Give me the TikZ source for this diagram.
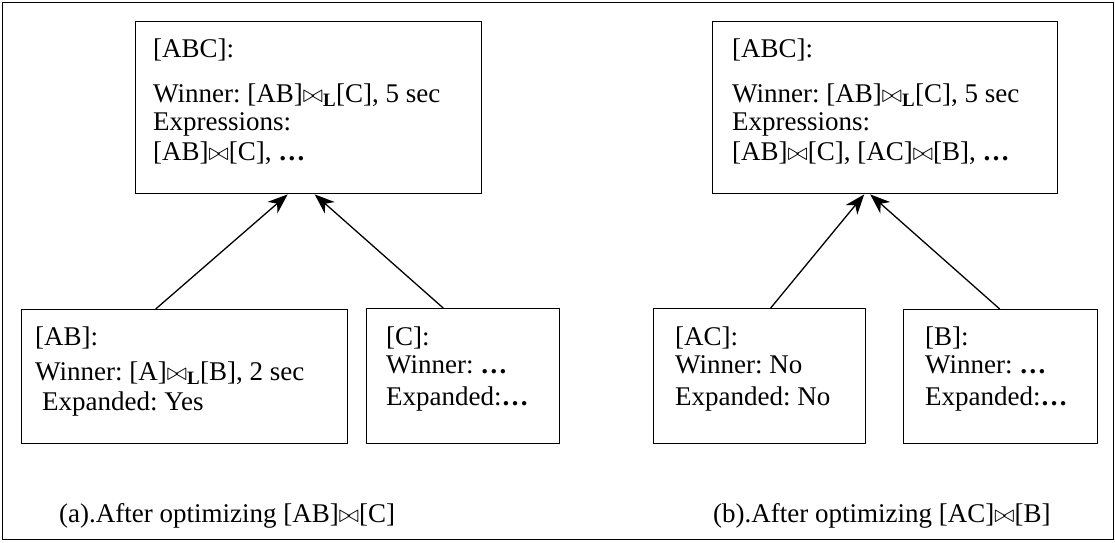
\documentclass[tikz,border=0pt]{standalone}
\usepackage{fontspec}
\setmainfont{Liberation Serif}
\usetikzlibrary{
    arrows.meta,
    positioning,
    calc
}
\frenchspacing

\begin{document}
\begin{tikzpicture}[x=1pt, y=-1pt,
    font=\fontsize{27}{30}\selectfont,
    box/.style={draw, line width=1.4pt, inner sep=0pt, anchor=north west},
    txt/.style={anchor=north west, inner sep=0pt, align=left},
    link/.style={line width=1.3pt, -{Stealth[length=20pt, width=15pt, inset=6pt]}}]
    \useasboundingbox (0,0) rectangle (1115,542);
    \node[box, line width=1.2pt, minimum width=1111pt, minimum height=537pt] (frame) at (2,2) {};
    % (a) after [AB] join [C]
    \node[box, minimum width=346pt, minimum height=172pt] (abcA) at (135,21) {};
    \node[box, minimum width=326pt, minimum height=134pt] (ab) at (21,309) {};
    \node[box, minimum width=193pt, minimum height=135pt] (c) at (366,308) {};
    \node[txt] (abcAtext) at (153,38.5) {[ABC]:\\[15pt]Winner: [AB]$\bowtie_{\mathbf{L}}$[C], 5 sec\\[-2pt]Expressions:\\{}[AB]$\bowtie$[C], \textbf{…}};
    \node[txt] (abtext) at (35,326.5) {[AB]:\\[5pt]Winner: [A]$\bowtie_{\mathbf{L}}$[B], 2 sec\\\hspace{7pt}Expanded: Yes};
    \node[txt] (ctext) at (386,326.5) {[C]:\\[-2pt]Winner: \textbf{…}\\[2pt]Expanded:\textbf{…}};
    \draw[link] ([xshift=-29pt]ab.north) -- ([xshift=-21pt]abcA.south);
    \draw[link] ([xshift=-20pt]c.north) -- ([xshift=6pt]abcA.south);
    \node[anchor=base west, inner sep=0pt] (capA) at (59,522) {(a).After optimizing [AB]$\bowtie$[C]};
    % (b) after [AC] join [B]
    \node[box, minimum width=345pt, minimum height=172pt] (abcB) at (712,21) {};
    \node[box, minimum width=212pt, minimum height=135pt] (ac) at (653,308) {};
    \node[box, minimum width=194pt, minimum height=134pt] (b) at (903,309) {};
    \node[txt] (abcBtext) at (732,38.5) {[ABC]:\\[15pt]Winner: [AB]$\bowtie_{\mathbf{L}}$[C], 5 sec\\[-2pt]Expressions:\\{}[AB]$\bowtie$[C], [AC]$\bowtie$[B], \textbf{…}};
    \node[txt] (actext) at (675,326.5) {[AC]:\\[-2pt]Winner: No\\[2pt]Expanded: No};
    \node[txt] (btext) at (925,326.5) {[B]:\\[-2pt]Winner: \textbf{…}\\[2pt]Expanded:\textbf{…}};
    \draw[link] ([xshift=11pt]ac.north) -- ([xshift=-21pt]abcB.south);
    \draw[link] ([xshift=-1pt]b.north) -- ([xshift=-15pt]abcB.south);
    \node[anchor=base west, inner sep=0pt] (capB) at (713,522) {(b).After optimizing [AC]$\bowtie$[B]};
\end{tikzpicture}
\end{document}
